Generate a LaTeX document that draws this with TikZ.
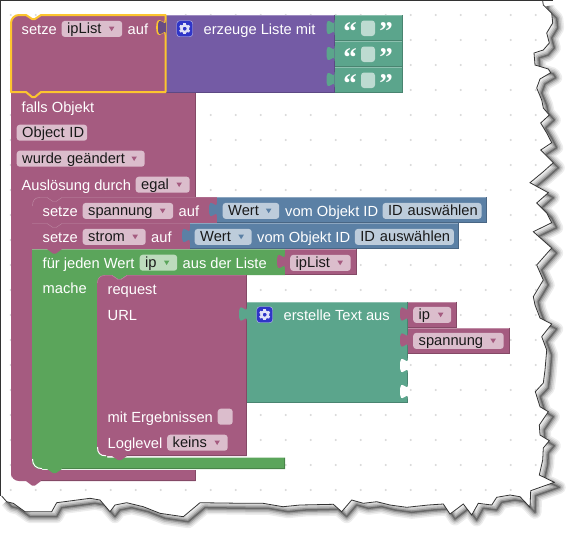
\documentclass[tikz,border=0pt]{standalone}
\usepackage{fontspec}
\setmainfont{Liberation Sans}
\newfontfamily\quotefont{Liberation Serif}
\usepackage{xcolor}
\definecolor{pink3}{HTML}{A55B80}
\definecolor{pink3hi}{HTML}{C08DA6}
\definecolor{pink3lo}{HTML}{844966}
\definecolor{pink3f}{HTML}{DBBDCC}
\definecolor{purple3}{HTML}{745BA5}
\definecolor{purple3hi}{HTML}{9E8CC0}
\definecolor{purple3lo}{HTML}{5D4984}
\definecolor{teal3}{HTML}{5BA58C}
\definecolor{teal3hi}{HTML}{8CC0AF}
\definecolor{teal3lo}{HTML}{498470}
\definecolor{teal3f}{HTML}{BDDBD1}
\definecolor{green3}{HTML}{5BA55B}
\definecolor{green3hi}{HTML}{8CC08C}
\definecolor{green3lo}{HTML}{498449}
\definecolor{green3f}{HTML}{BDDBBD}
\definecolor{blue3}{HTML}{5B80A5}
\definecolor{blue3hi}{HTML}{8CA6C0}
\definecolor{blue3lo}{HTML}{496684}
\definecolor{blue3f}{HTML}{BDCCDB}
\definecolor{select3}{HTML}{FCC52F}
\definecolor{gear3}{HTML}{2F35C8}
\definecolor{dot3}{HTML}{D8D8D8}
\usepackage{tikz}
\tikzset{
  lbl/.style={white, anchor=base west, inner sep=0pt, font=\fontsize{14.67}{17}\selectfont},
  fieldbox/.style={anchor=north west, rounded corners=3pt, inner xsep=5.5pt, inner ysep=.5pt,
    text height=12pt, text depth=3pt, text width=#1, align=left, text=black!90,
    font=\fontsize{14.67}{17}\selectfont},
  quot/.style={white, anchor=base, inner sep=0pt, font=\fontsize{27}{27}\quotefont\bfseries},
}
% block with light top edge, dark right and bottom edge
\newcommand{\blockrect}[5]{%
  \fill[#1] (#2,#3) rectangle (#4,#5);
  \draw[#1hi] (#2,#3+.5) -- (#4,#3+.5);
  \draw[#1lo] (#4-.5,#3) -- (#4-.5,#5-.5) -- (#2,#5-.5);
}
% puzzle tab on the left edge x of a block with top y
\newcommand{\blocktab}[3]{%
  \fill[#1] (#2,#3+5) .. controls (#2,#3+15) and (#2-8,#3-3) .. (#2-8,#3+12.5)
    .. controls (#2-8,#3+28) and (#2,#3+10) .. (#2,#3+20) -- cycle;
}
\newcommand{\fieldarrow}[2]{%
  \fill[#2] ([xshift=-13.5pt,yshift=2.2pt]#1.east) -- ++(5.5,0) -- ++(-2.75,4.5) -- cycle;
}
\newcommand{\gearicon}[2]{%
  \begin{scope}[shift={(#1,#2)}]
    \fill[gear3, draw=white!70!gear3, rounded corners=3pt] (-8,-8) rectangle (8,8);
    \fill[white!85!gear3, even odd rule] (0,0) circle (4.6pt) (0,0) circle (2pt);
    \foreach \a in {0,60,...,300}
      \fill[white!85!gear3, rotate=\a] (-1.3,3.4) rectangle (1.3,5.6);
  \end{scope}
}
\def\tornedge{(542.7,1) -- (543.3,5) -- (551.7,13.3) -- (552.7,23) -- (546.7,33) -- (549.3,43)
  -- (543.3,50) -- (534,53) -- (535,65) -- (548.3,69) -- (550.7,72.7) -- (540,79) -- (536.7,88)
  -- (541.7,100) -- (543.3,108) -- (549.3,115) -- (540.7,123) -- (546.7,133) -- (551.7,142.7)
  -- (540.7,150) -- (553.3,162.7) -- (543.3,171.7) -- (530,182.7) -- (548.3,192.7) -- (536.7,203)
  -- (546.7,213) -- (551.7,222.7) -- (533.3,231.7) -- (551.7,248) -- (536.7,265) -- (543.3,280)
  -- (533.3,296.7) -- (535,305) -- (540,318) -- (551.7,324) -- (541.7,336.7) -- (546.7,350)
  -- (545,370) -- (543.3,383) -- (535.3,391.7) -- (540,406.7) -- (548.3,411.7) -- (539.3,425)
  -- (540,435) -- (549.3,440.7) -- (543.3,448) -- (542.7,460) -- (539.3,475) -- (554.3,482.3)
  -- (530.7,490.7) -- (530,507.3) -- (520,496.7) -- (510,495) -- (496.7,497.3) -- (491.7,505)
  -- (478.3,503.3) -- (471.7,515) -- (463.3,504) -- (450,514) -- (443.3,504) -- (428.3,505)
  -- (406.7,507.3) -- (390,505) -- (376.7,501.7) -- (363.3,503.3) -- (351.7,500) -- (341.7,511.7)
  -- (333.3,504.3) -- (300,505) -- (283,506.7) -- (263,503.3) -- (245,503.3) -- (200,502.7)
  -- (183.3,516.7) -- (160,513.3) -- (143.3,506.7) -- (126.7,502.7) -- (115,505) -- (110,511.7)
  -- (100,500) -- (90,498.3) -- (56.7,502.7) -- (51.7,511.7) -- (25,511.7) -- (13.3,503.3)
  -- (6.7,501.7) -- (1.7,496)}

\begin{document}
\begin{tikzpicture}[x=1pt, y=-1pt]
  \useasboundingbox (0,0) rectangle (577,538);

  % Torn paper with its shadow
  \foreach \w/\o in {13/.07, 10/.09, 7/.13, 4/.2, 1.5/.3}
    \draw[black, opacity=\o, line width=\w pt, line join=round, shift={(5,5)}] \tornedge;
  \fill[white] \tornedge -- (1,1) -- cycle;
  \begin{scope}
    \clip \tornedge -- (1,1) -- cycle;
    \foreach \i in {0,...,21}
      \foreach \j in {0,...,19}
        \fill[dot3] ({10.7+25*\i},{15+25*\j}) circle (1.1pt);
  \end{scope}
  \draw[black!80, line width=.8pt] \tornedge;
  \draw[black!80, line width=1.2pt] (553,.5) -- (.5,.5) -- (.5,496);

  % Trigger block
  \fill[pink3] (11,93) -- (195.5,93) -- (195.5,197) -- (62,197) -- (56,201) -- (53,201) -- (47,197)
    -- (40,197) -- (40,205) -- (32,205) -- (32,460) -- (42,460) -- (42,470) -- (195.5,470) -- (195.5,481)
    -- (41,481) -- (35,485.5) -- (32,485.5) -- (26,481) [rounded corners=8pt] -- (11,481) -- (11,470)
    [sharp corners] -- cycle;
  \draw[pink3lo] (195,93) -- (195,197);
  \draw[pink3lo] (195,470) -- (195,480.5) -- (41,480.5);
  \node[lbl] (fallsLbl) at (21.5,112) {falls Objekt};
  \node[fieldbox=59.5pt, fill=pink3f] (objectFld) at (16.5,124.5) {\mbox{Object ID}};
  \node[fieldbox=117pt, fill=pink3f] (geaendertFld) at (16.5,150.5) {wurde geändert};
  \fieldarrow{geaendertFld}{pink3}
  \node[lbl] (ausloesungLbl) at (21.5,190) {Auslösung durch};
  \node[fieldbox=43pt, fill=pink3f] (egalFld) at (135.5,176.5) {egal};
  \fieldarrow{egalFld}{pink3}

  % Loop block
  \fill[green3] (32,249) -- (285,249) -- (285,275) -- (127,275) -- (121,279) -- (118,279) -- (112,275)
    -- (106,275) -- (106,284) -- (97,284) -- (97,447) -- (107,447) -- (107,457.5) -- (285,457.5)
    -- (285,469) -- (62,469) -- (56,473) -- (53,473) -- (47,469) [rounded corners=8pt] -- (32,469)
    -- (32,455) [sharp corners] -- cycle;
  \draw[green3hi] (32,249.5) -- (285,249.5);
  \draw[green3lo] (284.5,457.5) -- (284.5,468.5) -- (62,468.5);
  \draw[white, line width=1pt] (32.5,459) .. controls (32.5,465) and (36,468.6) .. (42,468.6);
  \node[lbl] (wertLbl) at (42.5,268) {für jeden Wert};
  \node[fieldbox=26.5pt, fill=green3f] (ipLoopFld) at (139.5,254.5) {ip};
  \fieldarrow{ipLoopFld}{green3}
  \node[lbl] (listeLbl) at (182.5,268) {aus der Liste};
  \node[lbl] (macheLbl) at (42.5,293) {mache};

  % Loop list value
  \blockrect{pink3}{285}{249}{356.5}{275}
  \blocktab{pink3}{285}{249}
  \node[fieldbox=49.5pt, fill=pink3f] (ipListLoopFld) at (290,254.7) {ipList};
  \fieldarrow{ipListLoopFld}{pink3}

  % Set spannung
  \fill[pink3] (40,197) -- (217,197) -- (217,223) -- (32,223) -- (32,205) .. controls (32,200) and (35,197) .. (40,197) -- cycle;
  \draw[pink3hi] (32.5,206) .. controls (32.5,200) and (35,197.5) .. (40,197.5) -- (47,197.5)
    -- (53,201.5) -- (56,201.5) -- (62,197.5) -- (217,197.5);
  \node[lbl] (setzeSpLbl) at (42.5,216) {setze};
  \node[fieldbox=79.5pt, fill=pink3f] (spannungFld) at (82.5,202.7) {spannung};
  \fieldarrow{spannungFld}{pink3}
  \node[lbl] (aufSpLbl) at (178.5,216) {auf};
  \blockrect{blue3}{217}{197}{487}{223}
  \blocktab{blue3}{217}{197}
  \node[fieldbox=45.5pt, fill=blue3f] (wertSpFld) at (222.5,202.7) {Wert};
  \fieldarrow{wertSpFld}{blue3}
  \node[lbl] (vomSpLbl) at (285,216) {vom Objekt ID};
  \node[fieldbox=88pt, fill=blue3f] (idSpFld) at (382.4,202.7) {\mbox{ID auswählen}};

  % Set strom
  \fill[pink3] (32,223) -- (190,223) -- (190,249) -- (62,249) -- (56,253.5) -- (53,253.5) -- (47,249) -- (32,249) -- cycle;
  \draw[pink3hi] (32,223.5) -- (47,223.5) -- (53,227.5) -- (56,227.5) -- (62,223.5) -- (190,223.5);
  \node[lbl] (setzeStLbl) at (42.5,242) {setze};
  \node[fieldbox=52pt, fill=pink3f] (stromFld) at (82.5,228.7) {strom};
  \fieldarrow{stromFld}{pink3}
  \node[lbl] (aufStLbl) at (151,242) {auf};
  \blockrect{blue3}{190}{223}{459}{249}
  \blocktab{blue3}{190}{223}
  \node[fieldbox=46pt, fill=blue3f] (wertStFld) at (194.5,228.7) {Wert};
  \fieldarrow{wertStFld}{blue3}
  \node[lbl] (vomStLbl) at (257,242) {vom Objekt ID};
  \node[fieldbox=88pt, fill=blue3f] (idStFld) at (354.7,228.7) {\mbox{ID auswählen}};

  % Request block
  \fill[pink3] (105,275) -- (112,275) -- (118,279) -- (121,279) -- (127,275) -- (246.5,275) -- (246.5,456)
    -- (127,456) -- (121,460) -- (118,460) -- (112,456) [rounded corners=8pt] -- (97,456)
    -- (97,275) [sharp corners] -- cycle;
  \draw[pink3hi] (97.5,283) .. controls (97.5,278) and (100,275.5) .. (105,275.5) -- (112,275.5)
    -- (118,279.5) -- (121,279.5) -- (127,275.5) -- (246.5,275.5);
  \draw[white, line width=1pt] (97.5,447) .. controls (97.5,453) and (100,455.8) .. (106,455.8);
  \draw[pink3lo] (246,275) -- (246,455.5) -- (127,455.5);
  \node[lbl] (requestLbl) at (107.5,294) {request};
  \node[lbl] (urlLbl) at (107.5,320) {URL};
  \node[lbl] (ergebLbl) at (107.5,422) {mit Ergebnissen};
  \node[fieldbox=4pt, fill=pink3f] (ergebFld) at (217.5,408.5) {};
  \node[lbl] (loglevelLbl) at (107.5,448) {Loglevel};
  \node[fieldbox=49.5pt, fill=pink3f] (keinsFld) at (167,434.5) {keins};
  \fieldarrow{keinsFld}{pink3}

  % Text join block
  \blockrect{teal3}{247}{301.5}{408}{403}
  \blocktab{teal3}{247}{301.5}
  \blocktab{white}{408}{353}
  \blocktab{white}{408}{379}
  \gearicon{264.7}{314.7}
  \node[lbl] (erstelleLbl) at (283.5,320) {erstelle Text aus};
  \blockrect{pink3}{408}{301.5}{457}{327.5}
  \blocktab{pink3}{408}{301.5}
  \node[fieldbox=27pt, fill=pink3f] (ipFld) at (413,306.7) {ip};
  \fieldarrow{ipFld}{pink3}
  \blockrect{pink3}{408}{327.5}{510}{353.5}
  \blocktab{pink3}{408}{327.5}
  \node[fieldbox=79.5pt, fill=pink3f] (spannungTxtFld) at (413,332.7) {spannung};
  \fieldarrow{spannungTxtFld}{pink3}

  % Selected block with create list
  \blockrect{purple3}{166}{15}{334.5}{93}
  \fill[pink3] (26,15) -- (32,19) -- (35,19) -- (41,15) -- (165.5,15) -- (165.5,92) -- (41,92) -- (35,97)
    -- (32,97) -- (26,92) -- (11,92) [rounded corners=8pt] -- (11,15) [sharp corners] -- cycle;
  \draw[select3, line width=2pt, line join=round] (26,15) -- (32,19) -- (35,19) -- (41,15) -- (165.5,15)
    -- (165.5,92) -- (41,92) -- (35,97) -- (32,97) -- (26,92) -- (11,92)
    [rounded corners=8pt] -- (11,15) [sharp corners] -- cycle;
  \draw[select3, line width=1.6pt] (165.5,20) .. controls (165.5,30) and (157,12) .. (157,27.5)
    .. controls (157,43) and (165.5,25) .. (165.5,35);
  \blocktab{purple3lo!85!pink3}{166}{15}
  \node[lbl] (setzeLbl) at (21.5,34) {setze};
  \node[fieldbox=49.5pt, fill=pink3f] (ipListFld) at (61.5,20.7) {ipList};
  \fieldarrow{ipListFld}{pink3}
  \node[lbl] (aufLbl) at (127.5,34) {auf};
  \gearicon{184.7}{28.7}
  \node[lbl] (erzeugeLbl) at (203.5,34) {erzeuge Liste mit};

  % Text values
  \foreach \y/\n in {15/A, 41/B, 67/C} {
    \blockrect{teal3}{334.5}{\y}{403}{\y+26}
    \blocktab{teal3}{334.5}{\y}
    \fill[teal3f, rounded corners=3pt] (361,\y+5.5) rectangle (375,\y+21);
    \node[quot] (open\n) at (350,\y+25) {“};
    \node[quot] (close\n) at (386,\y+25) {”};
  }
\end{tikzpicture}
\end{document}
